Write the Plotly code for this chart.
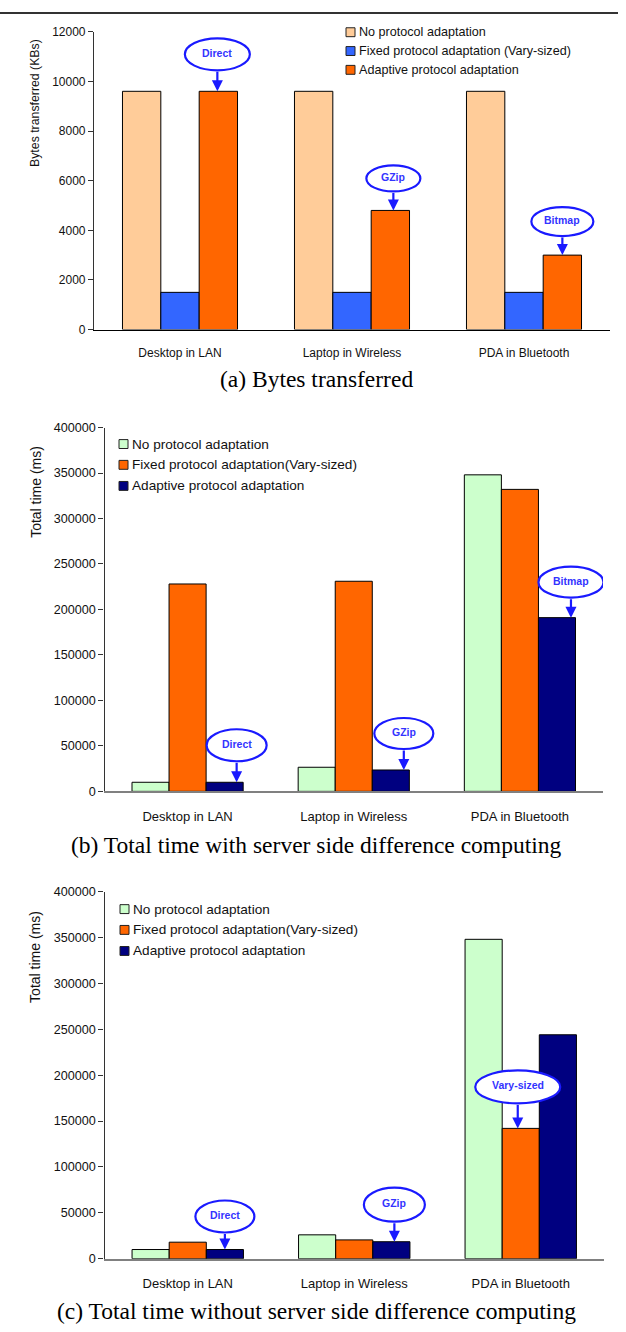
import plotly.graph_objects as go

# ---------------- data ----------------
categories = ["Desktop in LAN", "Laptop in Wireless", "PDA in Bluetooth"]
names_a = ["No protocol adaptation", "Fixed protocol adaptation (Vary-sized)",
           "Adaptive protocol adaptation"]
names_bc = ["No protocol adaptation", "Fixed protocol adaptation(Vary-sized)",
            "Adaptive protocol adaptation"]

bytes_no = [9600, 9600, 9600]
bytes_fixed = [1500, 1500, 1500]
bytes_adaptive = [9600, 4800, 3000]

srv_no = [10000, 26500, 348000]
srv_fixed = [228000, 231000, 332000]
srv_adaptive = [10000, 23500, 191000]

nosrv_no = [10000, 26000, 348000]
nosrv_fixed = [18000, 20500, 142000]
nosrv_adaptive = [10000, 18500, 244000]

bytes_ticks = [0, 2000, 4000, 6000, 8000, 10000, 12000]
time_ticks = [0, 50000, 100000, 150000, 200000, 250000, 300000, 350000, 400000]

captions = ["(a) Bytes transferred",
            "(b) Total time with server side difference computing",
            "(c) Total time without server side difference computing"]
y_titles = ["Bytes transferred (KBs)", "Total time (ms)", "Total time (ms)"]

# callouts: (panel, label, series index, category index)
callouts = [
    (0, "Direct", 2, 0), (0, "GZip", 2, 1), (0, "Bitmap", 2, 2),
    (1, "Direct", 2, 0), (1, "GZip", 2, 1), (1, "Bitmap", 2, 2),
    (2, "Direct", 2, 0), (2, "GZip", 2, 1), (2, "Vary-sized", 1, 2),
]
# pixel geometry of callouts: xshift, ellipse width, ellipse height, arrow length
callout_geom = [
    (-1, 65, 32, 21), (3, 54, 26, 19), (0, 62, 29, 19),
    (12, 60, 32, 21), (13, 59, 31, 21), (14, 65, 31, 20),
    (0, 59, 32, 17), (3, 61, 34, 20), (-3, 85, 33, 25),
]

# ---------------- styles ----------------
W, H = 626, 1332
def px(x): return x / W
def py(y): return 1 - y / H

colors_a = ["#FFCC99", "#3366FF", "#FF6600"]
colors_bc = ["#CCFFCC", "#FF6600", "#000080"]
SANS = "Liberation Sans, Arial, sans-serif"
SERIF = "Liberation Serif, Times New Roman, serif"
BLUE = "#1A1AFF"
BARGAP = 0.331

panels = [
    dict(series=[bytes_no, bytes_fixed, bytes_adaptive], names=names_a, colors=colors_a,
         xdom=[px(94), px(610)], ydom=[py(326), py(25)], yrange=[0, 12000], ticks=bytes_ticks,
         tickfont=12, catfont=12, legfont=12.6, legx=346, legy=[25.5, 44.5, 63.5], box=9,
         ytitle_xy=(35, 97), ytitle_font=12.3, caption_y=376, xline="#000000", xlw=1),
    dict(series=[srv_no, srv_fixed, srv_adaptive], names=names_bc, colors=colors_bc,
         xdom=[px(104.5), px(603)], ydom=[py(792.7), py(425)], yrange=[0, 400000], ticks=time_ticks,
         tickfont=12.6, catfont=13, legfont=13.6, legx=119, legy=[441.7, 462.7, 484], box=9,
         ytitle_xy=(36, 490), ytitle_font=14, caption_y=846.5, xline="#808080", xlw=1.5),
    dict(series=[nosrv_no, nosrv_fixed, nosrv_adaptive], names=names_bc, colors=colors_bc,
         xdom=[px(104.5), px(604)], ydom=[py(1265), py(894)], yrange=[0, 400000], ticks=time_ticks,
         tickfont=12.6, catfont=13, legfont=13.6, legx=120, legy=[911.7, 932.7, 954], box=9,
         ytitle_xy=(35, 960), ytitle_font=14, caption_y=1317.5, xline="#808080", xlw=1.5),
]

fig = go.Figure()
shapes, annotations = [], []

for p_i, p in enumerate(panels):
    sfx = "" if p_i == 0 else str(p_i + 1)
    xa, ya = "x" + sfx, "y" + sfx
    for s_i, vals in enumerate(p["series"]):
        fig.add_trace(go.Bar(
            x=categories, y=vals, name=p["names"][s_i], xaxis=xa, yaxis=ya,
            marker=dict(color=p["colors"][s_i], line=dict(color="#000000", width=1)),
            showlegend=False))
    fig.layout["xaxis" + sfx] = dict(
        domain=p["xdom"], anchor=ya, type="category", range=[-0.5, 2.5],
        showline=True, linecolor=p["xline"], linewidth=p["xlw"], ticks="",
        showgrid=False, zeroline=False, ticklabelstandoff=12,
        tickfont=dict(family=SANS, size=p["catfont"], color="#111111"), fixedrange=True)
    fig.layout["yaxis" + sfx] = dict(
        domain=p["ydom"], anchor=xa, range=p["yrange"], tickvals=p["ticks"],
        tickformat="d", showline=True, linecolor="#333333", linewidth=1.2,
        ticks="outside", ticklen=5, tickcolor="#333333", showgrid=False, zeroline=False,
        tickfont=dict(family=SANS, size=p["tickfont"], color="#111111"), fixedrange=True)
    # legend (drawn manually, Excel style)
    for s_i, name in enumerate(p["names"]):
        yc = p["legy"][s_i]
        b = p["box"]
        shapes.append(dict(type="rect", xref="paper", yref="paper",
                           x0=px(p["legx"]), x1=px(p["legx"] + b),
                           y0=py(yc + b / 2), y1=py(yc - b / 2),
                           fillcolor=p["colors"][s_i], line=dict(color="#222222", width=1)))
        annotations.append(dict(xref="paper", yref="paper", x=px(p["legx"] + b + 1.5),
                                y=py(yc), xanchor="left", yanchor="middle", showarrow=False,
                                text=name, font=dict(family=SANS, size=p["legfont"], color="#111111")))
    # y title
    tx, ty = p["ytitle_xy"]
    annotations.append(dict(xref="paper", yref="paper", x=px(tx), y=py(ty), textangle=-90,
                            xanchor="center", yanchor="middle", showarrow=False, text=y_titles[p_i],
                            font=dict(family=SANS, size=p["ytitle_font"], color="#111111")))
    # caption
    annotations.append(dict(xref="paper", yref="paper", x=px(316), y=py(p["caption_y"]),
                            xanchor="center", yanchor="middle", showarrow=False, text=captions[p_i],
                            font=dict(family=SERIF, size=23.5, color="#000000")))

# callouts
bw = (1 - BARGAP) / 3
for (p_i, label, s_i, c_i), (shift, ew, eh, gap) in zip(callouts, callout_geom):
    p = panels[p_i]
    sfx = "" if p_i == 0 else str(p_i + 1)
    xa, ya = "x" + sfx, "y" + sfx
    xpos = c_i + (s_i - 1) * bw
    val = p["series"][s_i][c_i]
    shapes.append(dict(type="circle", xref=xa, yref=ya, xsizemode="pixel", ysizemode="pixel",
                       xanchor=xpos, yanchor=val, x0=shift - ew / 2, x1=shift + ew / 2,
                       y0=gap, y1=gap + eh, fillcolor="white", line=dict(color=BLUE, width=2.2)))
    annotations.append(dict(xref=xa, yref=ya, x=xpos, y=val, xshift=shift, text="",
                            showarrow=True, ax=0, ay=-gap, arrowhead=2, arrowsize=1,
                            arrowwidth=2.2, arrowcolor=BLUE, standoff=0))
    annotations.append(dict(xref=xa, yref=ya, x=xpos, y=val, xshift=shift,
                            yshift=gap + eh / 2 + 1.5, showarrow=False, text=label,
                            font=dict(family=SANS, size=10.5, color="#3333FF", weight="bold")))

# top rule
shapes.append(dict(type="line", xref="paper", yref="paper", x0=0, x1=px(618),
                   y0=py(6), y1=py(6), line=dict(color="#333333", width=2)))

fig.update_layout(
    width=W, height=H, autosize=False, margin=dict(l=0, r=0, t=0, b=0),
    paper_bgcolor="white", plot_bgcolor="white", barmode="group",
    bargap=BARGAP, bargroupgap=0, showlegend=False,
    shapes=shapes, annotations=annotations,
)

fig.write_html("out.html", config={"displayModeBar": False},
               post_script="document.body.style.margin='0px';document.body.style.overflow='hidden';")
